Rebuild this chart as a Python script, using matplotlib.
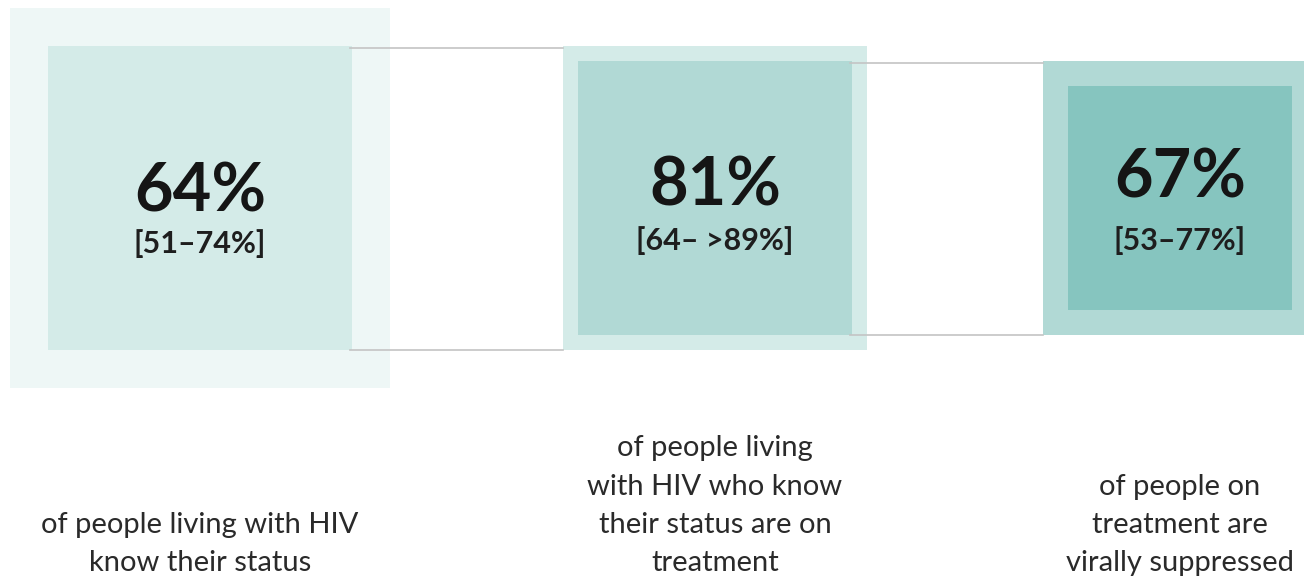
import matplotlib.pyplot as plt
from matplotlib.patches import Rectangle
import numpy as np

# cascade values
pct = [64, 81, 67]
ranges = ["[51–74%]", "[64– >89%]", "[53–77%]"]
captions = [
    "of people living with HIV\nknow their status",
    "of people living\nwith HIV who know\ntheir status are on\ntreatment",
    "of people on\ntreatment are\nvirally suppressed",
]

# layout (pixels)
base_side = 380
centers_x = [200, 715, 1180]
center_y = 198
big_y = [212, 205, 198]
range_y = [253, 250, 250]
colors = ["#eef7f6", "#d4ebe8", "#b1d9d5", "#86c5bf"]

# each square's area is the previous one times the percentage
sides = [base_side]
for p in pct:
    sides.append(sides[-1] * np.sqrt(p / 100))

fig = plt.figure(figsize=(13.04, 5.8), dpi=100)
ax = fig.add_axes([0, 0, 1, 1])
ax.set_xlim(0, 1304)
ax.set_ylim(580, 0)
ax.axis("off")

for i, cx in enumerate(centers_x):
    outer, inner = sides[i], sides[i + 1]
    ax.add_patch(Rectangle((cx - outer / 2, center_y - outer / 2), outer, outer,
                           facecolor=colors[i], edgecolor="none", zorder=1))
    ax.add_patch(Rectangle((cx - inner / 2, center_y - inner / 2), inner, inner,
                           facecolor=colors[i + 1], edgecolor="none", zorder=2))
    ax.text(cx, big_y[i], "%d%%" % pct[i], ha="center", va="baseline",
            fontsize=48, fontweight="bold", family="Lato", color="#151515", zorder=4)
    ax.text(cx, range_y[i], ranges[i], ha="center", va="baseline",
            fontsize=22, fontweight="bold", family="Lato", color="#1e1e1e", zorder=4)
    ax.text(cx, 571, captions[i], ha="center", va="baseline", linespacing=1.58,
            fontsize=21, family="Lato", color="#2a2a2a", zorder=4)

# connector lines from inner square to next outer square
for i in range(len(centers_x) - 1):
    inner = sides[i + 1]
    x0 = centers_x[i] + inner / 2
    x1 = centers_x[i + 1] - sides[i + 1] / 2
    for y in (center_y - inner / 2 + 2, center_y + inner / 2):
        ax.plot([x0 - 2, x1], [y, y], color="#c4c4c4", lw=1.2, zorder=3)

fig.savefig("out.png", dpi=100)
